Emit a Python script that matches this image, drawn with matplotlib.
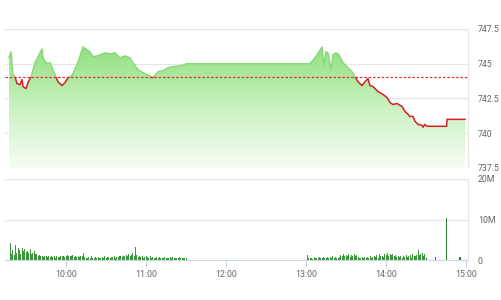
import matplotlib
matplotlib.use("Agg")
import matplotlib.pyplot as plt
import numpy as np
from matplotlib.colors import LinearSegmentedColormap
from matplotlib.patches import Rectangle

# price: minutes after 9:00 and index value
price_min = [17.25, 18.75, 20.25, 21.75, 23.25, 25.5, 27, 27.75, 30, 31.5,
             33.75, 36.75, 42, 42.75, 45.75, 48, 50.25, 51.75, 54, 57,
             59.25, 61.5, 64.5, 68.25, 72.75, 75.75, 78, 80.25, 83.25, 85.5,
             89.25, 93, 96.75, 100.5, 104.25, 108, 110.25, 114, 117.75, 123,
             124.5, 126.75, 129, 132.75, 136.5, 140.25, 145.5, 149.25, 150, 243,
             246.75, 252, 253.5, 255, 256.5, 258.75, 260.25, 262.5, 264.75, 267.75,
             270.75, 274.5, 276.75, 279, 282, 284.25, 286.5, 288, 290.25, 294,
             297.75, 300.75, 303, 305.25, 308.25, 312, 314.25, 316.5, 318, 320.25,
             321.75, 324, 327, 327.75, 329.25, 330.75, 345.5, 345.75, 359.25]
price = [745.43, 745.86, 744.21, 744.07, 743.57, 743.5, 743.86, 743.36, 743.21, 743.64,
         744.07, 745.07, 746.07, 745.43, 745.0, 745.07, 744.57, 744.21, 743.71, 743.43,
         743.64, 744.0, 744.14, 744.93, 746.21, 746.0, 745.86, 745.5, 745.57, 745.64,
         745.79, 745.71, 745.79, 745.43, 745.57, 745.43, 745.07, 744.57, 744.36, 744.14,
         744.0, 744.14, 744.43, 744.5, 744.71, 744.79, 744.86, 744.93, 745.0, 745.0,
         745.43, 746.21, 744.93, 745.86, 745.79, 744.57, 745.64, 745.79, 745.64, 745.07,
         744.79, 744.43, 744.07, 743.71, 743.43, 743.71, 743.93, 743.43, 743.36, 743.0,
         742.79, 742.57, 742.21, 742.07, 742.14, 741.93, 741.57, 741.36, 741.21, 741.21,
         740.86, 740.64, 740.57, 740.43, 740.64, 740.5, 740.5, 741.0, 741.0]
ref_price = 744.07

# volume (millions): morning session from 9:18, afternoon from 13:01
vol_am_start = 18
vol_am = [4.1, 1.5, 2.4, 1.2, 3.6, 1.8, 2.9, 2.4, 1.6, 3.0,
          2.2, 2.6, 1.9, 2.3, 1.7, 2.6, 1.5, 1.8, 2.2, 1.4,
          1.6, 1.0, 1.3, 0.9, 1.1, 0.8, 1.0, 0.9, 0.8, 1.0,
          0.7, 0.9, 0.8, 1.0, 0.6, 0.9, 0.7, 0.8, 1.0, 0.9,
          1.1, 0.8, 1.0, 1.2, 0.9, 1.1, 1.0, 1.2, 0.8, 1.0,
          0.7, 1.0, 0.8, 1.1, 1.0, 1.8, 0.7, 0.6, 0.5, 0.8,
          0.4, 1.0, 0.6, 0.5, 0.7, 0.4, 0.8, 0.5, 0.6, 0.7,
          0.5, 0.9, 0.6, 0.8, 0.7, 0.6, 0.8, 0.7, 0.9, 0.6,
          0.8, 0.7, 0.9, 1.0, 0.8, 1.1, 0.9, 1.2, 1.0, 1.5,
          1.1, 1.3, 1.8, 1.0, 3.2, 1.2, 0.8, 1.0, 0.7, 0.9,
          0.6, 0.8, 1.0, 0.7, 0.5, 0.9, 0.6, 0.7, 0.4, 0.6,
          0.8, 0.5, 0.7, 0.4, 0.6, 0.5, 0.8, 0.6, 0.4, 0.5,
          0.7, 0.6, 0.8, 0.5, 0.4, 0.6, 0.5, 0.7, 0.4, 0.5,
          0.6, 0.4, 0.5]
vol_pm_start = 241
vol_pm = [1.2, 0.4, 0.6, 0.5, 0.3, 0.7, 0.5, 0.6, 0.4, 0.8,
          0.5, 0.6, 0.7, 0.4, 0.6, 0.8, 0.5, 0.7, 0.6, 0.9,
          0.5, 0.7, 0.6, 0.4, 0.8, 1.2, 0.9, 1.5, 1.0, 1.3,
          1.1, 1.4, 0.8, 1.2, 1.0, 1.6, 0.9, 1.3, 0.7, 0.6,
          0.5, 0.7, 0.6, 0.8, 0.5, 0.7, 0.6, 0.9, 0.5, 0.8,
          1.0, 0.7, 1.2, 0.6, 1.4, 0.9, 1.1, 0.8, 1.5, 1.2,
          1.8, 1.0, 1.6, 1.3, 1.4, 0.9, 1.2, 0.8, 1.0, 0.7,
          0.9, 0.6, 1.1, 0.8, 1.3, 0.7, 1.0, 1.2, 0.6, 1.4,
          1.1, 0.9, 1.3, 2.5, 1.2, 1.5, 1.8, 1.0, 1.4, 0.6]
vol_late_min = [337, 345.5, 355.5]
vol_late = [0.7, 10.4, 0.8]

time_ticks = [60, 120, 180, 240, 300, 360]
time_labels = ["10:00", "11:00", "12:00", "13:00", "14:00", "15:00"]
price_ticks = [737.5, 740, 742.5, 745, 747.5]
vol_ticks = [0, 10, 20]
vol_labels = ["0", "10M", "20M"]

x_lo, x_hi = 14.25, 361.5
grid_c = "#e6e6e6"
axis_c = "#ccd6eb"
text_c = "#666666"
plt.rcParams["font.family"] = ["Roboto", "DejaVu Sans"]

fig = plt.figure(figsize=(5.01, 3.0), dpi=100)
ax = fig.add_axes([5 / 501, 1 - 168 / 300, 463 / 501, 139 / 300])
axv = fig.add_axes([5 / 501, 1 - 260 / 300, 463 / 501, 81 / 300])

# --- price panel ---
px = np.array(price_min)
py = np.array(price)
ax.set_xlim(x_lo, x_hi)
ax.set_ylim(737.5, 747.5)

poly = ax.fill_between(px, py, 737.5, color="none", lw=0)
grad = np.linspace(0, 1, 256).reshape(-1, 1)
cmap = LinearSegmentedColormap.from_list("g", ["#f7fdf5", "#c9f1bf", "#8fdf7e"])
img = ax.imshow(grad, cmap=cmap, origin="lower", aspect="auto",
                extent=[x_lo, x_hi, 737.5, 746.4], zorder=1)
img.set_clip_path(poly.get_paths()[0], transform=ax.transData)

top_clip = Rectangle((x_lo, ref_price), x_hi - x_lo, 10, transform=ax.transData)
bot_clip = Rectangle((x_lo, 730), x_hi - x_lo, ref_price - 730, transform=ax.transData)
gl, = ax.plot(px, py, color="#86d975", lw=1.0, zorder=3)
gl.set_clip_path(top_clip)
rl, = ax.plot(px, py, color="#d62020", lw=1.1, zorder=3)
rl.set_clip_path(bot_clip)

ax.axhline(ref_price, color="#e03030", lw=0.9, dashes=(2, 1.5), zorder=4)

ax.set_yticks(price_ticks)
ax.set_yticklabels([f"{v:g}" for v in price_ticks])
ax.yaxis.tick_right()
ax.grid(axis="y", color=grid_c, lw=0.9)
ax.set_axisbelow(True)
ax.set_xticks([])
for s in ["left", "top", "bottom"]:
    ax.spines[s].set_visible(False)
ax.spines["right"].set_color(grid_c)
ax.tick_params(axis="y", length=0, pad=7, labelsize=6.3, labelcolor=text_c)

# --- volume panel ---
am_x = np.arange(vol_am_start, vol_am_start + len(vol_am))
pm_x = np.arange(vol_pm_start, vol_pm_start + len(vol_pm))
bar_c = "#3c9a3c"
axv.bar(am_x, vol_am, width=0.75, color=bar_c, zorder=3)
axv.bar(pm_x, vol_pm, width=0.75, color=bar_c, zorder=3)
axv.bar(vol_late_min, vol_late, width=0.8, color="#2e7d32", zorder=3)

axv.set_xlim(x_lo, x_hi)
axv.set_ylim(0, 20)
axv.set_yticks(vol_ticks)
axv.set_yticklabels(vol_labels)
axv.yaxis.tick_right()
axv.grid(axis="y", color=grid_c, lw=0.9)
axv.set_axisbelow(True)
axv.set_xticks(time_ticks)
axv.set_xticklabels(time_labels)
for s in ["left", "top"]:
    axv.spines[s].set_visible(False)
axv.spines["right"].set_color(grid_c)
axv.spines["bottom"].set_color(axis_c)
axv.tick_params(axis="y", length=0, pad=7, labelsize=6.3, labelcolor=text_c)
axv.tick_params(axis="x", length=5, color=axis_c, pad=2, labelsize=6.3, labelcolor=text_c)

fig.savefig("out.png", dpi=100)
